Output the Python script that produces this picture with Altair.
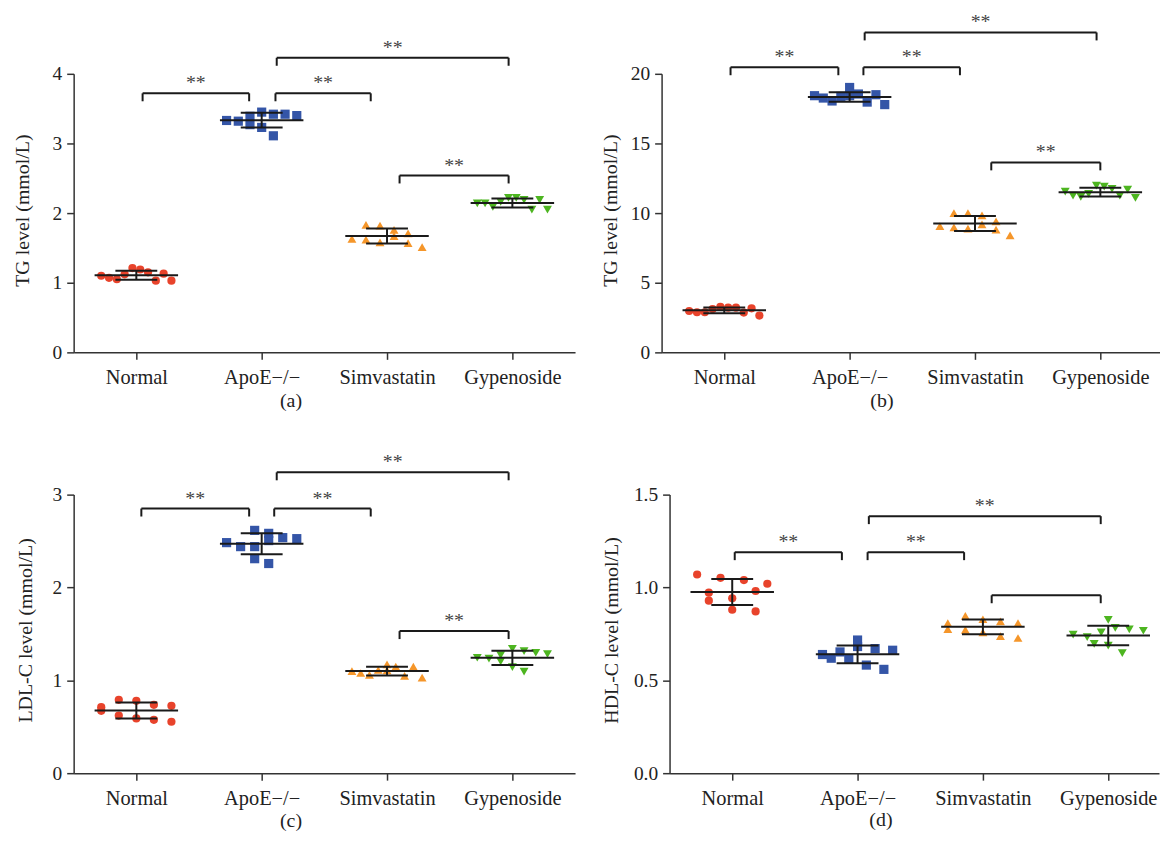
import json
import altair as alt
import pandas as pd

GROUPS = ["Normal", "ApoE−/−", "Simvastatin", "Gypenoside"]
COLORS = ["#e8432b", "#3455a7", "#f5962a", "#4db520"]
SHAPES = ["circle", "square", "triangle-up", "triangle-down"]
SIZES = [68, 85, 80, 80]

# ---- panel (a): TG level (mmol/L) ----
a_values = [
    [1.10, 1.07, 1.05, 1.12, 1.21, 1.19, 1.15, 1.03, 1.13, 1.03],
    [3.33, 3.32, 3.39, 3.27, 3.45, 3.23, 3.42, 3.11, 3.42, 3.40],
    [1.63, 1.83, 1.62, 1.82, 1.58, 1.76, 1.67, 1.71, 1.57, 1.51],
    [2.14, 2.14, 2.09, 2.16, 2.22, 2.22, 2.19, 2.05, 2.19, 2.05],
]
a_columns = [
    [0, 1, 2, 3, 4, 5, 6, 7, 8, 9],
    [0, 1, 2, 2, 3, 3, 4, 4, 5, 6],
    [0, 1, 1, 2, 2, 3, 3, 4, 4, 5],
    [0, 1, 2, 3, 4, 5, 6, 7, 8, 9],
]
a_ncols = [10, 7, 6, 10]
a_br_from = [0.05, 1.11, 1.12, 2.10]
a_br_to = [0.90, 1.87, 2.97, 2.97]
a_br_level = [3.72, 3.72, 4.23, 2.54]
a_br_text = ["**", "**", "**", "**"]

# ---- panel (b): TG level (mmol/L) ----
b_values = [
    [2.97, 2.88, 2.88, 3.11, 3.26, 3.21, 3.21, 2.86, 3.16, 2.64],
    [18.43, 18.26, 18.05, 18.38, 19.02, 18.43, 18.55, 17.97, 18.50, 17.79],
    [9.07, 10.00, 8.97, 10.00, 8.88, 9.83, 9.19, 9.40, 8.81, 8.40],
    [11.54, 11.26, 11.16, 11.38, 11.97, 11.90, 11.74, 11.26, 11.69, 11.09],
]
b_columns = [
    [0, 1, 2, 3, 4, 5, 6, 7, 8, 9],
    [0, 1, 2, 3, 4, 4, 5, 6, 7, 8],
    [0, 1, 1, 2, 2, 3, 3, 4, 4, 5],
    [0, 1, 2, 3, 4, 5, 6, 7, 8, 9],
]
b_ncols = [10, 9, 6, 10]
b_br_from = [0.05, 1.11, 1.12, 2.13]
b_br_to = [0.91, 1.88, 2.97, 3.00]
b_br_level = [20.47, 20.47, 22.97, 13.64]
b_br_text = ["**", "**", "**", "**"]

# ---- panel (c): LDL-C level (mmol/L) ----
c_values = [
    [0.711, 0.672, 0.79, 0.62, 0.779, 0.59, 0.736, 0.575, 0.725, 0.554],
    [2.483, 2.44, 2.615, 2.44, 2.31, 2.583, 2.505, 2.258, 2.537, 2.526],
    [1.10, 1.079, 1.058, 1.111, 1.172, 1.108, 1.147, 1.047, 1.147, 1.029],
    [1.243, 1.233, 1.272, 1.204, 1.34, 1.143, 1.315, 1.093, 1.297, 1.283],
]
c_columns = [
    [0, 0, 1, 1, 2, 2, 3, 3, 4, 4],
    [0, 1, 2, 2, 2, 3, 3, 3, 4, 5],
    [0, 1, 2, 3, 4, 4, 5, 6, 7, 8],
    [0, 1, 2, 2, 3, 3, 4, 4, 5, 6],
]
c_ncols = [5, 6, 9, 7]
c_br_from = [0.04, 1.10, 1.12, 2.10]
c_br_to = [0.90, 1.87, 2.97, 2.97]
c_br_level = [2.85, 2.85, 3.24, 1.53]
c_br_text = ["**", "**", "**", "**"]

# ---- panel (d): HDL-C level (mmol/L) ----
d_values = [
    [1.07, 0.972, 0.929, 1.052, 0.942, 0.88, 1.04, 0.981, 0.871, 1.02],
    [0.639, 0.619, 0.653, 0.614, 0.717, 0.682, 0.582, 0.671, 0.559, 0.662],
    [0.808, 0.776, 0.847, 0.772, 0.829, 0.758, 0.817, 0.738, 0.808, 0.728],
    [0.746, 0.733, 0.696, 0.758, 0.826, 0.687, 0.783, 0.646, 0.774, 0.767],
]
d_columns = [
    [0, 1, 1, 2, 3, 3, 4, 5, 5, 6],
    [0, 1, 2, 3, 4, 4, 5, 6, 7, 8],
    [0, 0, 1, 1, 2, 2, 3, 3, 4, 4],
    [0, 2, 3, 4, 5, 5, 6, 7, 8, 10],
]
d_ncols = [7, 9, 5, 11]
d_br_from = [0.02, 1.08, 1.09, 2.07]
d_br_to = [0.875, 1.85, 2.94, 2.94]
d_br_level = [1.19, 1.19, 1.384, 0.958]
d_br_text = ["**", "**", "**", ""]

FONT = "Liberation Serif"
AX = "#333333"
INK = "#1a1a1a"
LABEL_EXPR = json.dumps(GROUPS, ensure_ascii=False) + "[datum.value]"
SIZE_EXPR = json.dumps(SIZES) + "[datum.g]"


def panel(values, columns, ncols, br_from, br_to, br_level, br_text,
          ytitle, yticks, yfmt, ymax, xmax, width, height,
          letter, letter_x, letter_y, ytitle_x, ytitle_y):
    pts = pd.DataFrame([
        {"g": g, "name": GROUPS[g], "col": c, "ncol": ncols[g], "value": v}
        for g in range(4) for v, c in zip(values[g], columns[g])
    ])
    brk = pd.DataFrame({"x1": br_from, "x2": br_to, "lvl": br_level, "txt": br_text})

    xs = alt.Scale(domain=[-0.5, xmax], nice=False, zero=False)
    ys = alt.Scale(domain=[0, ymax], nice=False, zero=False)
    xa = alt.Axis(values=[0, 1, 2, 3], labelExpr=LABEL_EXPR, title=letter, grid=False,
                  tickSize=7, tickWidth=1.5, tickColor=AX, domainColor=AX, domainWidth=1.5,
                  labelFont=FONT, labelFontSize=20.5, labelColor="#222", labelPadding=8,
                  labelFlush=False, labelOverlap=False,
                  titleFont=FONT, titleFontSize=20, titleFontWeight="normal", titleColor="#222",
                  titleX=letter_x, titleY=letter_y, titleAlign="center", titleBaseline="alphabetic")
    ya = alt.Axis(values=yticks, format=yfmt, title=ytitle, grid=False,
                  tickSize=7, tickWidth=1.5, tickColor=AX, domainColor=AX, domainWidth=1.5,
                  labelFont=FONT, labelFontSize=19.5, labelColor="#222", labelPadding=5,
                  labelFlush=False, labelOverlap=False,
                  titleFont=FONT, titleFontSize=20, titleFontWeight="normal", titleColor="#222",
                  titleAngle=270, titleX=ytitle_x, titleY=ytitle_y, titleAlign="center",
                  titleBaseline="alphabetic")

    def X(f):
        return alt.X(f, type="quantitative", scale=xs, axis=xa)

    def Y(f):
        return alt.Y(f, type="quantitative", scale=ys, axis=ya)

    base = alt.Chart(pts)
    points = base.transform_calculate(
        xp="datum.g + (datum.col / (datum.ncol - 1) - 0.5) * 0.56",
        sz=SIZE_EXPR,
    ).mark_point(filled=True, opacity=1).encode(
        x=X("xp"), y=Y("value"),
        color=alt.Color("name:N", scale=alt.Scale(domain=GROUPS, range=COLORS), legend=None),
        shape=alt.Shape("name:N", scale=alt.Scale(domain=GROUPS, range=SHAPES), legend=None),
        size=alt.Size("sz:Q", scale=None),
    )

    stats = base.transform_aggregate(
        m="mean(value)", sd="stdev(value)", groupby=["g"]
    ).transform_calculate(
        lo="datum.m - datum.sd", hi="datum.m + datum.sd",
        ml="datum.g - 0.333", mr="datum.g + 0.333",
        cl="datum.g - 0.167", cr="datum.g + 0.167",
    )
    rule_style = dict(color=INK, strokeWidth=2)
    mean_line = stats.mark_rule(**rule_style).encode(x=X("ml"), x2="mr:Q", y=Y("m"))
    cap_lo = stats.mark_rule(**rule_style).encode(x=X("cl"), x2="cr:Q", y=Y("lo"))
    cap_hi = stats.mark_rule(**rule_style).encode(x=X("cl"), x2="cr:Q", y=Y("hi"))
    vert = stats.mark_rule(**rule_style).encode(x=X("g"), y=Y("lo"), y2="hi:Q")

    bb = alt.Chart(brk)
    br_style = dict(color=INK, strokeWidth=2)
    br_h = bb.mark_rule(**br_style).encode(x=X("x1"), x2="x2:Q", y=Y("lvl"))
    br_l = bb.mark_rule(y2Offset=8, **br_style).encode(x=X("x1"), y=Y("lvl"), y2="lvl:Q")
    br_r = bb.mark_rule(y2Offset=8, **br_style).encode(x=X("x2"), y=Y("lvl"), y2="lvl:Q")
    br_t = bb.transform_calculate(mid="(datum.x1 + datum.x2) / 2").mark_text(
        font=FONT, fontSize=20, color="#444", dy=-4, baseline="alphabetic", align="center"
    ).encode(x=X("mid"), y=Y("lvl"), text="txt:N")

    return alt.layer(points, mean_line, cap_lo, cap_hi, vert, br_h, br_l, br_r, br_t).properties(
        width=width, height=height)


pa = panel(a_values, a_columns, a_ncols, a_br_from, a_br_to, a_br_level, a_br_text,
           "TG level (mmol/L)", [0, 1, 2, 3, 4], "d", 4, 3.5, 504, 280,
           "(a)", 218, 54, -45, 137)
pb = panel(b_values, b_columns, b_ncols, b_br_from, b_br_to, b_br_level, b_br_text,
           "TG level (mmol/L)", [0, 5, 10, 15, 20], "d", 20, 3.476, 501, 280,
           "(b)", 221, 54, -45, 137)
pc = panel(c_values, c_columns, c_ncols, c_br_from, c_br_to, c_br_level, c_br_text,
           "LDL-C level (mmol/L)", [0, 1, 2, 3], "d", 3, 3.5, 504, 280,
           "(c)", 218, 54, -42, 136)
pd_ = panel(d_values, d_columns, d_ncols, d_br_from, d_br_to, d_br_level, d_br_text,
            "HDL-C level (mmol/L)", [0, 0.5, 1.0, 1.5], ".1f", 1.5, 3.405, 492, 280,
            "(d)", 212, 53, -52, 136)

row1 = alt.hconcat(pa, pb, spacing=87, bounds="flush")
row2 = alt.hconcat(pc, pd_, spacing=95, bounds="flush")
chart = alt.vconcat(row1, row2, spacing=42, bounds="full").properties(
    padding={"left": 5, "top": 2, "right": 0, "bottom": 5}, background="white"
).configure_view(stroke=None)

chart.save("out.html", embed_options={"renderer": "svg", "actions": False})
